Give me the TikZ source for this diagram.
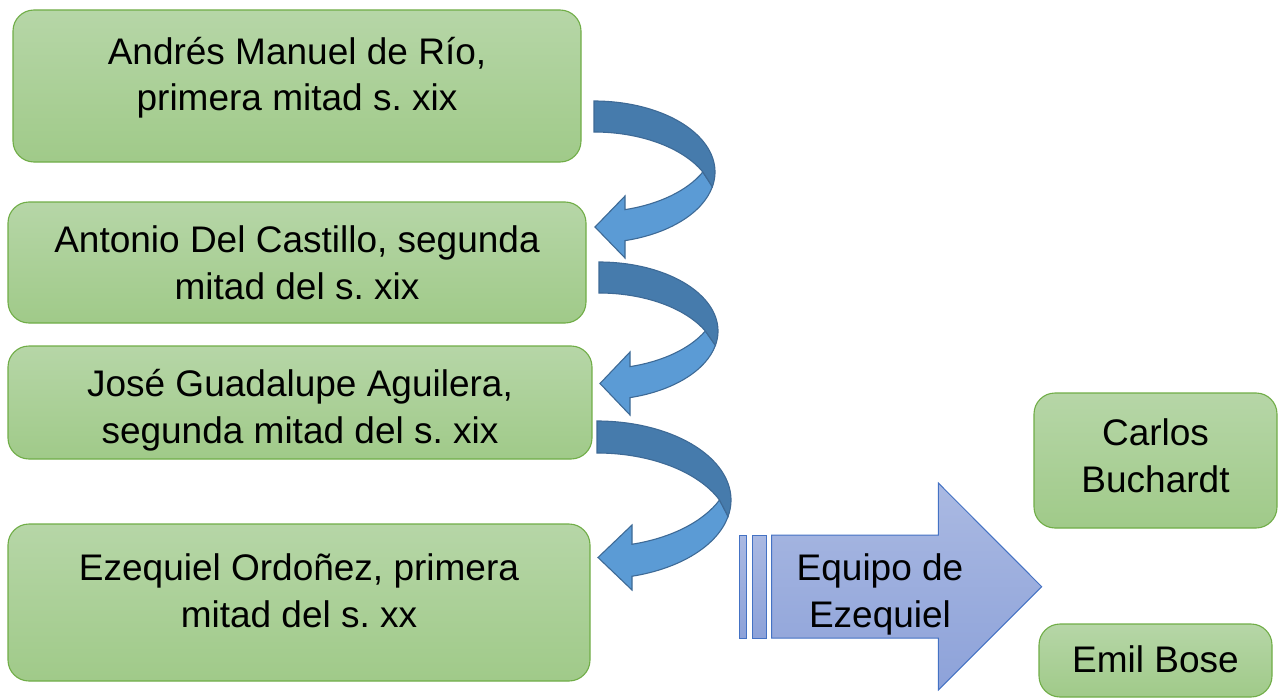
\documentclass[tikz,border=0pt]{standalone}
\usepackage{fontspec}
\setmainfont{Liberation Sans}
\frenchspacing
\definecolor{gtop}{RGB}{182,214,167}
\definecolor{gbot}{RGB}{160,202,137}
\definecolor{gline}{RGB}{112,173,71}
\definecolor{btop}{RGB}{170,185,226}
\definecolor{bbot}{RGB}{141,162,217}
\definecolor{bline}{RGB}{68,114,196}
\definecolor{clight}{RGB}{91,155,213}
\definecolor{cdark}{RGB}{70,123,172}
\definecolor{cline}{RGB}{62,106,150}
\tikzset{
  gbox/.style={draw=gline, line width=1.1pt, rounded corners=21pt, top color=gtop, bottom color=gbot, inner sep=0pt},
  txt/.style={font=\fontsize{37}{47}\selectfont, align=center, anchor=base, inner sep=0pt},
  barrow/.style={draw=bline, line width=1pt, top color=btop, bottom color=bbot},
  lightarr/.style={draw=cline, line width=1.1pt, fill=clight, line join=miter},
  darkarr/.style={draw=cline, line width=1.1pt, fill=cdark, line join=miter}
}
% #1 x0, #2 yc, #3 a, #4 b, #5 band width w, #6 xBase, #7 barbTop, #8 barbBot  (pixel units, y downward)
% three equal ellipses: centre yc (outer), yc-w (front inner), yc+w (back inner)
\newcommand{\curvarrow}[8]{%
  \pgfmathsetmacro{\myA}{-acos((#6-#1)/#3)}%
  \pgfmathsetmacro{\myJ}{asin(#5/#4)}%
  \pgfmathsetmacro{\myJx}{#1+#3*cos(\myJ)}%
  % front (light) band
  \path[lightarr] (\myJx,-#2)
    -- ({#1+#3*cos(12)},{-#2-#4*sin(12)})
    arc[start angle=-12,end angle=\myA,x radius=#3pt,y radius=#4pt]
    -- (#6,-#8) -- (#1+1,{-(#7+#8)/2}) -- (#6,-#7)
    -- ({#6},{-#2+#5+#4*sin(\myA)})
    arc[start angle=\myA,end angle=-\myJ,x radius=#3pt,y radius=#4pt] -- cycle;
  % back (dark) band
  \path[darkarr] (#1,-#2+#4) arc[start angle=90,end angle=-12,x radius=#3pt,y radius=#4pt]
    -- (\myJx,-#2)
    arc[start angle=\myJ,end angle=90,x radius=#3pt,y radius=#4pt] -- cycle;
}
\begin{document}
\begin{tikzpicture}[x=1pt,y=1pt]
\useasboundingbox (0,0) rectangle (1282,-698);
% green boxes
\node[gbox, minimum width=568pt, minimum height=152pt] (b1) at (297,-86) {};
\node[gbox, minimum width=578pt, minimum height=121pt] (b2) at (297,-262.5) {};
\node[gbox, minimum width=584pt, minimum height=113pt] (b3) at (300,-402.5) {};
\node[gbox, minimum width=582pt, minimum height=157pt] (b4) at (299,-602.5) {};
\node[gbox, minimum width=243pt, minimum height=135pt] (b5) at (1155.5,-460.5) {};
\node[gbox, minimum width=233pt, minimum height=73pt] (b6) at (1155.5,-660.5) {};
% texts (anchor = baseline of last line)
\node[txt] (t1) at (297,-111) {Andrés Manuel de Río,\\primera mitad s. xix};
\node[txt] (t2) at (297,-299) {Antonio Del Castillo, segunda\\mitad del s. xix};
\node[txt] (t3) at (300,-443) {José Guadalupe Aguilera,\\segunda mitad del s. xix};
\node[txt] (t4) at (299,-627) {Ezequiel Ordoñez, primera\\mitad del s. xx};
\node[txt] (t5) at (1155.5,-492) {Carlos\\Buchardt};
\node[txt] (t6) at (1155.5,-672) {Emil Bose};
% curved arrows
\curvarrow{594}{172}{121}{71}{31}{625}{196}{258}
\curvarrow{599}{331}{119}{69}{31}{630}{352}{415}
\curvarrow{597}{500}{134}{79}{32}{632}{525}{590}
% big arrow
\path[barrow] (739.3,-535) rectangle (746.7,-638);
\path[barrow] (752.7,-535) rectangle (766,-638);
\path[barrow] (771.7,-535) -- (938.3,-535) -- (938.3,-483) -- (1041.7,-586.7) -- (938.3,-690) -- (938.3,-638) -- (771.7,-638) -- cycle;
\node[txt] (t7) at (880,-627) {Equipo de\\Ezequiel};
\end{tikzpicture}
\end{document}
